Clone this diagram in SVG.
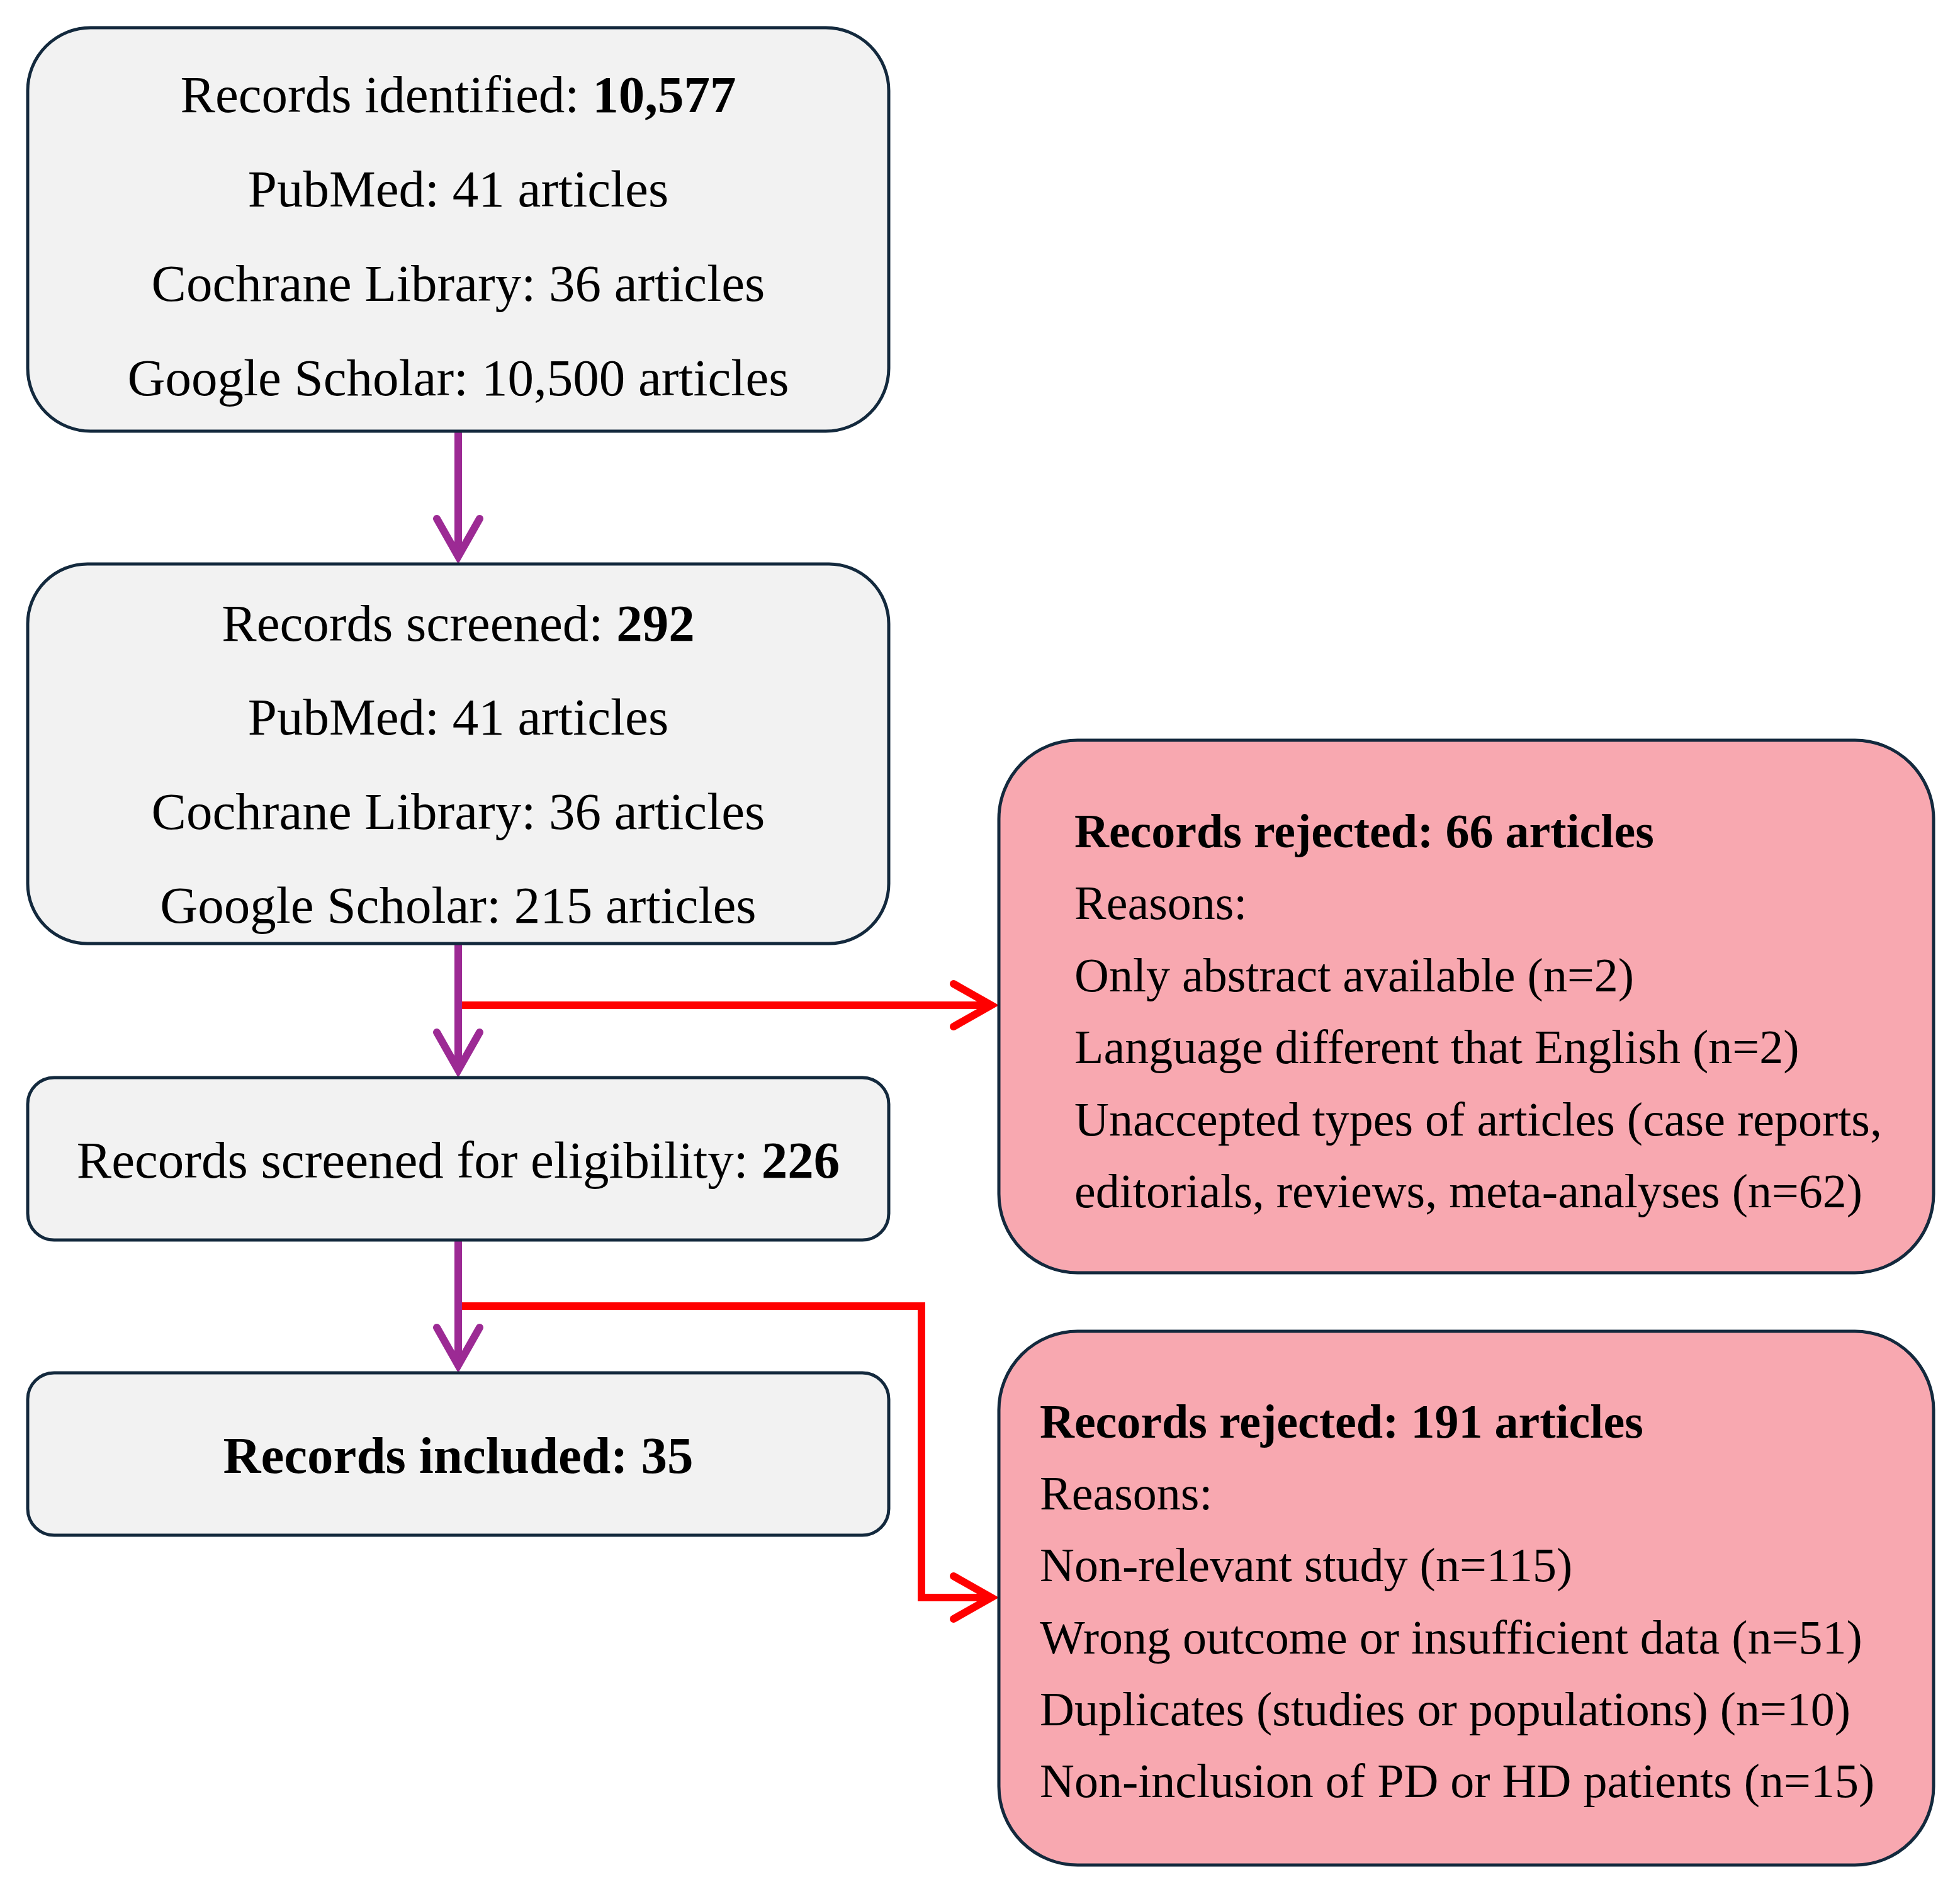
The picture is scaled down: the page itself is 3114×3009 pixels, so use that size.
<svg xmlns="http://www.w3.org/2000/svg" width="3114" height="3009" viewBox="0 0 3114 3009">
  <style>
    .box { fill: #F2F2F2; stroke: #13293D; stroke-width: 5; }
    .pink { fill: #F8A8B0; stroke: #13293D; stroke-width: 5; }
    .t { font-family: "Liberation Serif", "Times New Roman", serif; font-size: 83px; fill: #000; }
    .c { text-anchor: middle; }
    .tp { font-family: "Liberation Serif", "Times New Roman", serif; font-size: 76px; fill: #000; }
    .b { font-weight: bold; }
    .purple { fill: none; stroke: #9C2A94; stroke-width: 12; }
    .red { fill: none; stroke: #FF0000; stroke-width: 12; stroke-linejoin: miter; }
  </style>
  <defs>
    <marker id="pArrow" markerUnits="userSpaceOnUse" viewBox="-80 -50 100 100" markerWidth="100" markerHeight="100" refX="0" refY="0" orient="auto" overflow="visible">
      <path d="M -60,-34 L 0,0 L -60,34" fill="none" stroke="#9C2A94" stroke-width="12" stroke-linejoin="miter" stroke-linecap="round"/>
    </marker>
    <marker id="rArrow" markerUnits="userSpaceOnUse" viewBox="-80 -50 100 100" markerWidth="100" markerHeight="100" refX="0" refY="0" orient="auto" overflow="visible">
      <path d="M -60,-34 L 0,0 L -60,34" fill="none" stroke="#FF0000" stroke-width="12" stroke-linejoin="miter" stroke-linecap="round"/>
    </marker>
  </defs>
  <rect width="3114" height="3009" fill="#FFFFFF"/>

  <g id="connectors">
    <path class="red" d="M 728,1597 H 1575" marker-end="url(#rArrow)"/>
    <path class="red" d="M 728,2075 H 1464 V 2538 H 1575" marker-end="url(#rArrow)"/>
    <path class="purple" d="M 728,685 V 884" marker-end="url(#pArrow)"/>
    <path class="purple" d="M 728,1499 V 1700" marker-end="url(#pArrow)"/>
    <path class="purple" d="M 728,1970 V 2169" marker-end="url(#pArrow)"/>
  </g>

  <g id="node-identified">
    <rect class="box" x="44" y="44" width="1368" height="641" rx="100" ry="100"/>
    <text class="t c" x="728" y="178">Records identified: <tspan class="b">10,577</tspan></text>
    <text class="t c" x="728" y="328">PubMed: 41 articles</text>
    <text class="t c" x="728" y="478">Cochrane Library: 36 articles</text>
    <text class="t c" x="728" y="628">Google Scholar: 10,500 articles</text>
  </g>

  <g id="node-screened">
    <rect class="box" x="44" y="896" width="1368" height="603" rx="95" ry="95"/>
    <text class="t c" x="728" y="1018">Records screened: <tspan class="b">292</tspan></text>
    <text class="t c" x="728" y="1167">PubMed: 41 articles</text>
    <text class="t c" x="728" y="1317">Cochrane Library: 36 articles</text>
    <text class="t c" x="728" y="1466">Google Scholar: 215 articles</text>
  </g>

  <g id="node-eligibility">
    <rect class="box" x="44" y="1712" width="1368" height="258" rx="42" ry="42"/>
    <text class="t c" x="728" y="1871">Records screened for eligibility: <tspan class="b">226</tspan></text>
  </g>

  <g id="node-included">
    <rect class="box" x="44" y="2181" width="1368" height="258" rx="42" ry="42"/>
    <text class="t c b" x="728" y="2340">Records included: 35</text>
  </g>

  <g id="node-rejected-66">
    <rect class="pink" x="1587" y="1176" width="1485" height="846" rx="125" ry="125"/>
    <text class="tp b" x="1707" y="1346">Records rejected: 66 articles</text>
    <text class="tp" x="1707" y="1460">Reasons:</text>
    <text class="tp" x="1707" y="1575">Only abstract available (n=2)</text>
    <text class="tp" x="1707" y="1689">Language different that English (n=2)</text>
    <text class="tp" x="1707" y="1804">Unaccepted types of articles (case reports,</text>
    <text class="tp" x="1707" y="1918">editorials, reviews, meta-analyses (n=62)</text>
  </g>

  <g id="node-rejected-191">
    <rect class="pink" x="1587" y="2115" width="1485" height="848" rx="125" ry="125"/>
    <text class="tp b" x="1652" y="2284">Records rejected: 191 articles</text>
    <text class="tp" x="1652" y="2398">Reasons:</text>
    <text class="tp" x="1652" y="2512">Non-relevant study (n=115)</text>
    <text class="tp" x="1652" y="2627">Wrong outcome or insufficient data (n=51)</text>
    <text class="tp" x="1652" y="2741">Duplicates (studies or populations) (n=10)</text>
    <text class="tp" x="1652" y="2855">Non-inclusion of PD or HD patients (n=15)</text>
  </g>
</svg>
